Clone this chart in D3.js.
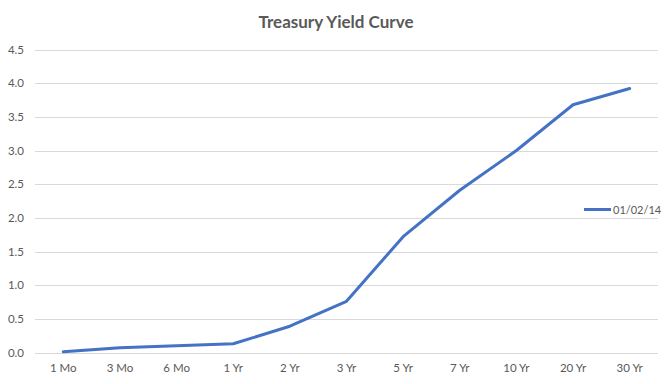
<!DOCTYPE html>
<html>
<head>
<meta charset="utf-8">
<script src="https://cdn.jsdelivr.net/npm/d3@7"></script>
<style>
  body { margin: 0; background: #fff; }
  text { font-family: Lato, "Open Sans", sans-serif; fill: #595959; }
</style>
</head>
<body>
<svg id="chart" width="672" height="384"></svg>
<script>
var categories = ['1 Mo', '3 Mo', '6 Mo', '1 Yr', '2 Yr', '3 Yr', '5 Yr', '7 Yr', '10 Yr', '20 Yr', '30 Yr'];
var yields = [0.01, 0.07, 0.10, 0.13, 0.39, 0.76, 1.72, 2.41, 3.00, 3.68, 3.92];
var yTicks = [0, 0.5, 1, 1.5, 2, 2.5, 3, 3.5, 4, 4.5];
var seriesName = '01/02/14';

var svg = d3.select('#chart');
var plotLeft = 35, plotRight = 658, plotTop = 49.5, plotBottom = 352.5;

var x = d3.scaleBand().domain(categories).range([plotLeft, plotRight]);
var y = d3.scaleLinear().domain([0, 4.5]).range([plotBottom, plotTop]);

// gridlines
svg.append('g')
  .selectAll('line')
  .data(yTicks)
  .enter()
  .append('line')
  .attr('x1', plotLeft)
  .attr('x2', plotRight)
  .attr('y1', d => Math.round(y(d)) + 0.5)
  .attr('y2', d => Math.round(y(d)) + 0.5)
  .attr('stroke', '#d9d9d9')
  .attr('stroke-width', 1);

// y labels
svg.append('g')
  .selectAll('text')
  .data(yTicks)
  .enter()
  .append('text')
  .attr('x', 24)
  .attr('y', d => y(d) + 4)
  .attr('text-anchor', 'end')
  .attr('font-size', 11.5)
  .text(d => d.toFixed(1));

// x labels
svg.append('g')
  .selectAll('text')
  .data(categories)
  .enter()
  .append('text')
  .attr('x', d => x(d) + x.bandwidth() / 2)
  .attr('y', 372)
  .attr('text-anchor', 'middle')
  .attr('font-size', 11.5)
  .text(d => d);

// line
var line = d3.line()
  .x((d, i) => x(categories[i]) + x.bandwidth() / 2)
  .y(d => y(d));

svg.append('path')
  .datum(yields)
  .attr('d', line)
  .attr('fill', 'none')
  .attr('stroke', '#4472c4')
  .attr('stroke-width', 3)
  .attr('stroke-linejoin', 'round')
  .attr('stroke-linecap', 'round');

// title
svg.append('text')
  .attr('x', 336)
  .attr('y', 28)
  .attr('text-anchor', 'middle')
  .attr('font-size', 17)
  .attr('font-weight', 'bold')
  .text('Treasury Yield Curve');

// legend
svg.append('line')
  .attr('x1', 584)
  .attr('x2', 611)
  .attr('y1', 209.5)
  .attr('y2', 209.5)
  .attr('stroke', '#4472c4')
  .attr('stroke-width', 3);

svg.append('text')
  .attr('x', 613)
  .attr('y', 213.5)
  .attr('font-size', 11)
  .text(seriesName);
</script>
</body>
</html>
